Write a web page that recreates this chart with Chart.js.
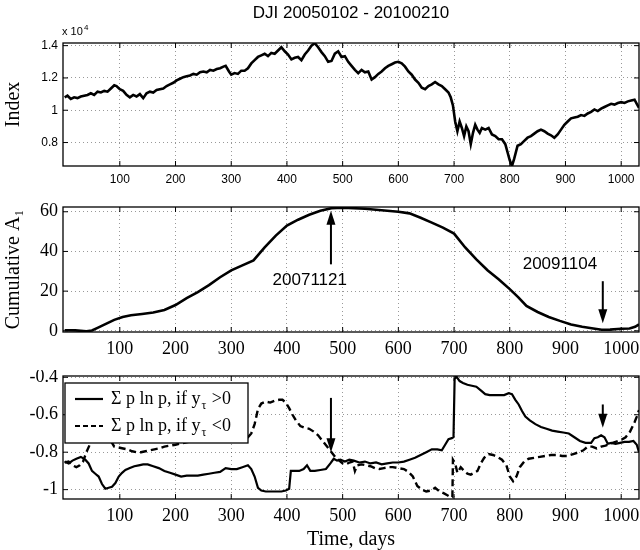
<!DOCTYPE html>
<html>
<head>
<meta charset="utf-8">
<script src="https://cdn.jsdelivr.net/npm/chart.js@4.4.1/dist/chart.umd.min.js"></script>
<style>
  body { margin: 0; background: #fff; }
  #wrap { position: relative; width: 640px; height: 550px; }
  canvas { position: absolute; left: 0; }
</style>
</head>
<body>
<div id="wrap">
  <canvas id="c1" width="640" height="200" style="top:0px"></canvas>
  <canvas id="c2" width="640" height="170" style="top:200px"></canvas>
  <canvas id="c3" width="640" height="180" style="top:370px"></canvas>
</div>
<script>
// ---- data ----
const xTicks = [100, 200, 300, 400, 500, 600, 700, 800, 900, 1000];
const indexTicks = [8000, 10000, 12000, 14000];
const cumTicks = [0, 20, 40, 60];
const entTicks = [-1, -0.8, -0.6, -0.4];

const days1 = [1, 6, 12, 18, 24, 30, 36, 42, 48, 54, 60, 66, 72, 78, 84, 90, 94, 100, 106, 112, 118, 124, 130, 136, 142, 148, 154, 160, 166, 172, 178, 184, 190, 196, 202, 208, 214, 220, 226, 232, 238, 244, 250, 256, 262, 268, 274, 280, 286, 290, 296, 300, 306, 312, 318, 324, 330, 336, 342, 348, 354, 360, 366, 372, 378, 384, 390, 396, 402, 408, 414, 420, 426, 432, 438, 444, 450, 456, 462, 468, 474, 480, 486, 492, 498, 504, 510, 516, 522, 528, 534, 540, 546, 552, 558, 564, 570, 576, 582, 588, 594, 600, 606, 612, 618, 624, 630, 636, 642, 648, 654, 660, 666, 672, 678, 684, 690, 694, 698, 702, 706, 710, 714, 718, 722, 726, 730, 734, 738, 742, 746, 750, 756, 762, 768, 774, 780, 786, 792, 796, 800, 804, 808, 814, 820, 826, 832, 838, 844, 850, 856, 862, 868, 874, 880, 886, 892, 898, 904, 910, 916, 922, 928, 934, 940, 946, 952, 958, 964, 970, 976, 982, 988, 994, 1000, 1006, 1012, 1018, 1024, 1028, 1032];
const indexVals = [10800, 10900, 10700, 10800, 10750, 10850, 10900, 10950, 11050, 10950, 11150, 11100, 11200, 11150, 11350, 11550, 11500, 11300, 11200, 10950, 10800, 10950, 10850, 11000, 10750, 11050, 11150, 11100, 11250, 11300, 11350, 11500, 11600, 11700, 11850, 11950, 12050, 12100, 12150, 12250, 12200, 12350, 12400, 12350, 12500, 12450, 12550, 12600, 12700, 12750, 12400, 12200, 12300, 12250, 12450, 12450, 12600, 12900, 13100, 13300, 13400, 13500, 13350, 13550, 13500, 13700, 13900, 13650, 13450, 13150, 13250, 13300, 13100, 13450, 13700, 14000, 14150, 13900, 13600, 13350, 13000, 13050, 13500, 13650, 13300, 13350, 13000, 12750, 12500, 12300, 12500, 12350, 12400, 11900, 12050, 12250, 12400, 12600, 12750, 12850, 12950, 13000, 12900, 12700, 12400, 12200, 11900, 11700, 11400, 11300, 11500, 11600, 11750, 11600, 11500, 11300, 11100, 10800, 10300, 9300, 8700, 9300, 8900, 8400, 9000, 8700, 7900, 8600, 9100, 8800, 8600, 8900, 8800, 8900, 8500, 8400, 8200, 8200, 7900, 7400, 6900, 6550, 7000, 7800, 7900, 8100, 8300, 8400, 8550, 8700, 8800, 8700, 8550, 8450, 8300, 8500, 8800, 9100, 9300, 9500, 9550, 9600, 9700, 9650, 9800, 9900, 10050, 9950, 10100, 10200, 10300, 10400, 10350, 10450, 10500, 10450, 10550, 10600, 10650, 10400, 10150];

const days2 = [1, 20, 40, 50, 60, 75, 90, 105, 120, 140, 160, 180, 200, 220, 240, 260, 280, 300, 320, 340, 360, 380, 400, 420, 440, 460, 480, 500, 520, 540, 560, 580, 600, 620, 640, 660, 680, 700, 720, 740, 760, 780, 800, 815, 830, 850, 870, 890, 910, 930, 950, 965, 980, 1000, 1015, 1025, 1032];
const cumA1 = [0.3, 0.2, -0.2, 0.2, 1.5, 3.5, 5.5, 7, 7.8, 8.5, 9.2, 10.5, 13, 16.5, 19.5, 23, 27, 30.5, 33, 35.5, 42, 48, 53, 56, 58.5, 60.5, 61.8, 62, 61.8, 61.5, 61, 60.5, 60, 59.2, 57, 54.5, 52, 49, 42, 36, 30.5, 26, 21, 17, 12.5, 9.5, 7, 5, 3.2, 2, 1.2, 0.5, 0.6, 1, 1.2, 2, 3.2];

const days3a = [1, 8, 15, 22, 30, 38, 44, 50, 56, 62, 68, 74, 80, 86, 92, 98, 104, 110, 118, 126, 134, 142, 150, 160, 170, 180, 190, 200, 210, 220, 230, 240, 250, 260, 270, 280, 290, 300, 310, 320, 330, 336, 342, 348, 354, 362, 370, 380, 390, 398, 404, 407, 414, 422, 430, 436, 442, 450, 460, 470, 478, 484, 490, 496, 504, 512, 520, 530, 540, 550, 560, 570, 580, 590, 600, 610, 620, 630, 640, 650, 660, 670, 678, 684, 690, 696, 699, 701, 704, 710, 716, 724, 732, 740, 748, 756, 764, 772, 780, 790, 798, 804, 810, 816, 822, 828, 836, 846, 856, 866, 876, 886, 896, 906, 916, 926, 936, 946, 952, 958, 964, 970, 976, 982, 990, 998, 1006, 1014, 1022, 1028, 1032];
const entPos = [-0.85, -0.86, -0.845, -0.835, -0.825, -0.84, -0.86, -0.9, -0.915, -0.93, -0.97, -0.995, -0.99, -0.985, -0.965, -0.93, -0.91, -0.895, -0.885, -0.875, -0.87, -0.865, -0.865, -0.875, -0.885, -0.9, -0.91, -0.92, -0.93, -0.925, -0.925, -0.925, -0.92, -0.915, -0.91, -0.905, -0.885, -0.89, -0.89, -0.88, -0.87, -0.89, -0.93, -0.99, -1.005, -1.01, -1.01, -1.01, -1.01, -1.005, -0.995, -0.9, -0.9, -0.9, -0.89, -0.87, -0.9, -0.9, -0.895, -0.89, -0.86, -0.835, -0.845, -0.84, -0.85, -0.84, -0.845, -0.855, -0.85, -0.86, -0.855, -0.865, -0.86, -0.855, -0.855, -0.85, -0.84, -0.83, -0.815, -0.8, -0.785, -0.785, -0.79, -0.76, -0.73, -0.725, -0.72, -0.41, -0.395, -0.42, -0.43, -0.44, -0.445, -0.45, -0.47, -0.49, -0.495, -0.495, -0.495, -0.495, -0.485, -0.49, -0.52, -0.545, -0.58, -0.61, -0.63, -0.65, -0.665, -0.675, -0.685, -0.69, -0.695, -0.7, -0.72, -0.74, -0.75, -0.75, -0.725, -0.72, -0.71, -0.72, -0.755, -0.75, -0.755, -0.75, -0.745, -0.745, -0.74, -0.76, -0.8];

const days3b = [1, 8, 15, 22, 28, 34, 40, 46, 52, 60, 70, 80, 90, 98, 106, 114, 122, 130, 138, 146, 154, 162, 170, 180, 200, 230, 260, 290, 320, 330, 336, 342, 348, 354, 362, 370, 378, 386, 392, 398, 404, 410, 416, 424, 432, 440, 448, 456, 464, 472, 480, 488, 494, 500, 506, 512, 518, 522, 526, 534, 542, 550, 558, 566, 574, 582, 590, 600, 610, 618, 626, 634, 642, 650, 658, 666, 674, 682, 688, 694, 697, 698, 702, 706, 712, 718, 724, 730, 736, 742, 748, 754, 762, 770, 778, 786, 794, 800, 806, 812, 818, 826, 834, 844, 854, 864, 874, 884, 894, 904, 914, 924, 932, 940, 948, 956, 964, 972, 980, 990, 1000, 1008, 1016, 1024, 1028, 1032];
const entNeg = [-0.855, -0.85, -0.87, -0.88, -0.87, -0.85, -0.8, -0.76, -0.72, -0.68, -0.68, -0.72, -0.77, -0.775, -0.78, -0.785, -0.795, -0.8, -0.8, -0.795, -0.79, -0.785, -0.78, -0.77, -0.76, -0.74, -0.72, -0.7, -0.72, -0.72, -0.7, -0.65, -0.57, -0.54, -0.53, -0.535, -0.525, -0.52, -0.52, -0.535, -0.565, -0.6, -0.63, -0.66, -0.67, -0.675, -0.69, -0.71, -0.74, -0.77, -0.8, -0.83, -0.845, -0.86, -0.865, -0.855, -0.85, -0.9, -0.87, -0.865, -0.87, -0.875, -0.885, -0.89, -0.885, -0.88, -0.88, -0.885, -0.89, -0.905, -0.93, -0.98, -1.0, -1.01, -1.005, -0.99, -1.01, -1.02, -1.03, -1.04, -1.04, -0.84, -0.86, -0.91, -0.88, -0.9, -0.915, -0.92, -0.91, -0.9, -0.86, -0.83, -0.81, -0.815, -0.825, -0.84, -0.87, -0.93, -0.955, -0.93, -0.88, -0.85, -0.835, -0.83, -0.825, -0.82, -0.815, -0.815, -0.82, -0.82, -0.81, -0.8, -0.79, -0.77, -0.77, -0.78, -0.77, -0.765, -0.755, -0.745, -0.735, -0.72, -0.69, -0.64, -0.61, -0.575];

const annoDays = [479, 967];
const annoDates = ["20071121", "20091104"];

// ---- helpers ----
const SANS = '"Liberation Sans", Arial, sans-serif';
const SERIF = '"Liberation Serif", "Times New Roman", serif';

function pts(xs, ys) {
  return xs.map((d, i) => ({ x: d, y: ys[i] }));
}

function frame(chart) {
  const { ctx, chartArea: a, scales: { x, y } } = chart;
  ctx.save();
  ctx.strokeStyle = "#000";
  ctx.lineWidth = 1.3;
  ctx.strokeRect(a.left, a.top, a.right - a.left, a.bottom - a.top);
  ctx.lineWidth = 1;
  ctx.beginPath();
  x.ticks.forEach(t => {
    const p = x.getPixelForValue(t.value);
    ctx.moveTo(p, a.bottom); ctx.lineTo(p, a.bottom - 5);
    ctx.moveTo(p, a.top); ctx.lineTo(p, a.top + 5);
  });
  y.ticks.forEach(t => {
    const p = y.getPixelForValue(t.value);
    ctx.moveTo(a.left, p); ctx.lineTo(a.left + 5, p);
    ctx.moveTo(a.right, p); ctx.lineTo(a.right - 5, p);
  });
  ctx.stroke();
  ctx.restore();
}

function arrow(ctx, x, y0, y1) {
  const dir = Math.sign(y1 - y0);
  ctx.beginPath();
  ctx.moveTo(x, y0);
  ctx.lineTo(x, y1 - dir * 10);
  ctx.stroke();
  ctx.beginPath();
  ctx.moveTo(x, y1);
  ctx.lineTo(x - 4.5, y1 - dir * 14);
  ctx.lineTo(x + 4.5, y1 - dir * 14);
  ctx.closePath();
  ctx.fill();
}

function makeOptions(cfg) {
  return {
    responsive: false,
    animation: false,
    events: [],
    layout: { padding: { top: cfg.top, right: 1, left: 0, bottom: 0 } },
    plugins: { legend: { display: false }, tooltip: { enabled: false } },
    scales: {
      x: {
        type: "linear",
        min: -2,
        max: 1032,
        afterBuildTicks: axis => { axis.ticks = xTicks.map(v => ({ value: v })); },
        afterFit: s => { s.height = cfg.xh; s.paddingLeft = 0; s.paddingRight = 0; },
        grid: { color: "rgba(0,0,0,0.4)", lineWidth: 1, drawTicks: false },
        border: { display: false, dash: [1, 3] },
        ticks: { color: "#000", padding: 6, maxRotation: 0, font: cfg.tickFont, callback: v => String(v) },
        title: cfg.xTitle ? {
          display: true, text: cfg.xTitle, color: "#000",
          font: { family: SERIF, size: 20 }, padding: { top: 0, bottom: -2 }
        } : { display: false }
      },
      y: {
        type: "linear",
        min: cfg.ymin,
        max: cfg.ymax,
        afterBuildTicks: axis => { axis.ticks = cfg.yTicks.map(v => ({ value: v })); },
        afterFit: s => { s.width = 63; s.paddingTop = 0; s.paddingBottom = 0; },
        grid: { color: "rgba(0,0,0,0.4)", lineWidth: 1, drawTicks: false },
        border: { display: false, dash: [1, 3] },
        ticks: { color: "#000", padding: 5, font: cfg.tickFont, callback: cfg.yFmt || (v => String(v)) },
        title: cfg.yTitle ? {
          display: true, text: cfg.yTitle, color: "#000",
          font: { family: SERIF, size: 20 }, padding: { top: 2, bottom: 0 }
        } : { display: false }
      }
    }
  };
}

const lineStyle = { borderColor: "#000", borderWidth: 2.2, pointRadius: 0, tension: 0, fill: false };

// ---- panel 1: index ----
new Chart(document.getElementById("c1"), {
  type: "line",
  data: { datasets: [Object.assign({ data: pts(days1, indexVals) }, lineStyle, { borderWidth: 2.6 })] },
  options: makeOptions({
    top: 43, xh: 34, ymin: 6547, ymax: 14164, yTicks: indexTicks,
    tickFont: { family: SANS, size: 12 },
    yFmt: v => String(v / 10000),
    yTitle: "Index"
  }),
  plugins: [{
    id: "deco1",
    afterDraw(chart) {
      frame(chart);
      const { ctx, chartArea: a } = chart;
      ctx.save();
      ctx.fillStyle = "#000";
      ctx.font = "17px " + SANS;
      ctx.textAlign = "center";
      ctx.textBaseline = "middle";
      ctx.fillText("DJI 20050102 - 20100210", (a.left + a.right) / 2, 13);
      ctx.textAlign = "left";
      ctx.textBaseline = "alphabetic";
      ctx.font = "11px " + SANS;
      ctx.fillText("x 10", a.left - 1, a.top - 8);
      ctx.font = "8px " + SANS;
      ctx.fillText("4", a.left + 21, a.top - 13);
      ctx.restore();
    }
  }]
});

// ---- panel 2: cumulative A1 ----
new Chart(document.getElementById("c2"), {
  type: "line",
  data: { datasets: [Object.assign({ data: pts(days2, cumA1) }, lineStyle, { borderWidth: 2.6 })] },
  options: makeOptions({
    top: 7, xh: 38, ymin: -0.6, ymax: 62.4, yTicks: cumTicks,
    tickFont: { family: SERIF, size: 18 },
    yTitle: "Cumulative A\u2081"
  }),
  plugins: [{
    id: "deco2",
    afterDraw(chart) {
      frame(chart);
      const { ctx, scales: { x, y } } = chart;
      ctx.save();
      ctx.strokeStyle = "#000";
      ctx.fillStyle = "#000";
      ctx.lineWidth = 2;
      arrow(ctx, x.getPixelForValue(annoDays[0]), y.getPixelForValue(33.5), y.getPixelForValue(60.5));
      arrow(ctx, x.getPixelForValue(annoDays[1]), y.getPixelForValue(25), y.getPixelForValue(3.8));
      ctx.font = "17px " + SANS;
      ctx.textAlign = "center";
      ctx.textBaseline = "middle";
      ctx.fillText(annoDates[0], x.getPixelForValue(annoDays[0] - 38), y.getPixelForValue(25.4));
      ctx.fillText(annoDates[1], x.getPixelForValue(annoDays[1] - 77), y.getPixelForValue(33.7));
      ctx.restore();
    }
  }]
});

// ---- panel 3: entropy ----
new Chart(document.getElementById("c3"), {
  type: "line",
  data: {
    datasets: [
      Object.assign({ data: pts(days3a, entPos) }, lineStyle),
      Object.assign({ data: pts(days3b, entNeg) }, lineStyle, { borderWidth: 2.4, borderDash: [7, 4] })
    ]
  },
  options: makeOptions({
    top: 6, xh: 51, ymin: -1.05, ymax: -0.393, yTicks: entTicks,
    tickFont: { family: SERIF, size: 18 },
    xTitle: "Time, days"
  }),
  plugins: [{
    id: "deco3",
    afterDraw(chart) {
      frame(chart);
      const { ctx, chartArea: a, scales: { x, y } } = chart;
      ctx.save();
      ctx.strokeStyle = "#000";
      ctx.fillStyle = "#000";
      ctx.lineWidth = 2;
      arrow(ctx, x.getPixelForValue(annoDays[0]), y.getPixelForValue(-0.51), y.getPixelForValue(-0.8));
      arrow(ctx, x.getPixelForValue(annoDays[1]), y.getPixelForValue(-0.545), y.getPixelForValue(-0.67));

      // legend box
      const L = a.left + 2, T = a.top + 7, W = 183, H = 60;
      ctx.fillStyle = "#fff";
      ctx.fillRect(L, T, W, H);
      ctx.lineWidth = 1.3;
      ctx.strokeRect(L, T, W, H);
      ctx.fillStyle = "#000";
      const rows = [
        { dash: [], sign: ">0" },
        { dash: [5, 3], sign: "<0" }
      ];
      rows.forEach((r, i) => {
        const cy = T + 16 + i * 27;
        ctx.lineWidth = 2.2;
        ctx.setLineDash(r.dash);
        ctx.beginPath();
        ctx.moveTo(L + 10, cy);
        ctx.lineTo(L + 38, cy);
        ctx.stroke();
        ctx.setLineDash([]);
        ctx.textBaseline = "middle";
        ctx.textAlign = "left";
        ctx.font = "18px " + SERIF;
        let tx = L + 46;
        const main = "\u03A3 p ln p, if y";
        ctx.fillText(main, tx, cy);
        tx += ctx.measureText(main).width;
        ctx.font = "12px " + SERIF;
        ctx.fillText("\u03C4", tx + 1, cy + 7);
        tx += ctx.measureText("\u03C4").width + 2;
        ctx.font = "18px " + SERIF;
        ctx.fillText(" " + r.sign, tx, cy);
      });
      ctx.restore();
    }
  }]
});
</script>
</body>
</html>
